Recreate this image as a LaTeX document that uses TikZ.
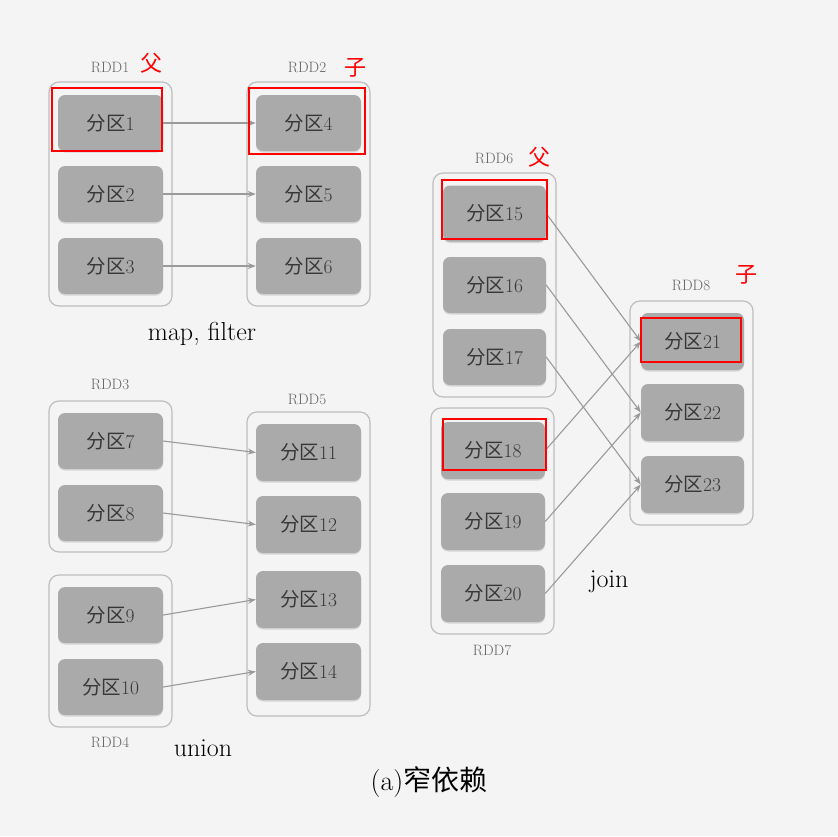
\documentclass[tikz,border=0pt]{standalone}
\usepackage{fontspec}
\newfontfamily\cjk{Noto Sans CJK SC}
\usetikzlibrary{arrows.meta,shadows}
\definecolor{bgc}{HTML}{F4F4F4}
\definecolor{partc}{HTML}{AAAAAA}
\definecolor{boxc}{HTML}{BEBEBE}
\definecolor{linec}{HTML}{9A9A9A}
\definecolor{txtc}{HTML}{383838}
\definecolor{lblc}{HTML}{626262}
\tikzset{
  part/.style={rectangle, rounded corners=7pt, fill=partc, minimum width=105pt, minimum height=56pt, inner sep=0pt, text=txtc, font=\fontsize{19.5}{19.5}\selectfont,
    drop shadow={shadow xshift=0pt, shadow yshift=-1.5pt, fill=black, opacity=0.12}},
  rddbox/.style={rectangle, rounded corners=10pt, draw=boxc, line width=1.2pt, fill=bgc, minimum width=123pt, inner sep=0pt},
  rddlbl/.style={text=lblc, font=\fontsize{15}{15}\selectfont, inner sep=0pt},
  redmark/.style={text=red, font=\cjk\fontsize{22}{22}\selectfont, inner sep=0pt},
  redbox/.style={draw=red, line width=2.6pt},
  arr/.style={draw=linec, line width=1.1pt, -{Stealth[length=8pt,width=6pt]}},
  op/.style={text=black, font=\fontsize{26}{26}\selectfont, inner sep=0pt}
}
\newcommand{\fq}[1]{{\cjk 分区}#1}
\begin{document}
\begin{tikzpicture}[x=1pt,y=-1pt]
\fill[bgc] (0,0) rectangle (838,836);
\useasboundingbox (0,0) rectangle (838,836);
% containers
\node[rddbox, minimum height=224pt] (r1) at (110.5,194) {};
\node[rddbox, minimum height=224pt] (r2) at (308.5,194) {};
\node[rddbox, minimum height=151pt] (r3) at (110.5,476.5) {};
\node[rddbox, minimum height=152pt] (r4) at (110.5,651) {};
\node[rddbox, minimum height=304pt] (r5) at (308.5,564) {};
\node[rddbox, minimum height=224pt] (r6) at (494.5,285) {};
\node[rddbox, minimum height=226pt] (r7) at (492.5,521) {};
\node[rddbox, minimum height=224pt] (r8) at (691.5,413) {};
% labels
\node[rddlbl] (l1) at (110,67) {RDD1};
\node[rddlbl] (l2) at (307,67) {RDD2};
\node[rddlbl] (l3) at (110,384) {RDD3};
\node[rddlbl] (l4) at (110,742) {RDD4};
\node[rddlbl] (l5) at (307,399) {RDD5};
\node[rddlbl] (l6) at (494,158) {RDD6};
\node[rddlbl] (l7) at (492,650) {RDD7};
\node[rddlbl] (l8) at (691,285) {RDD8};
\node[redmark] (f1) at (151,63) {父};
\node[redmark] (z1) at (355,68) {子};
\node[redmark] (f2) at (539,157) {父};
\node[redmark] (z2) at (746,275) {子};
% partitions
\node[part] (p1) at (110.5,123) {\fq{1}};
\node[part] (p2) at (110.5,194) {\fq{2}};
\node[part] (p3) at (110.5,266) {\fq{3}};
\node[part] (p4) at (308.5,123) {\fq{4}};
\node[part] (p5) at (308.5,194) {\fq{5}};
\node[part] (p6) at (308.5,266) {\fq{6}};
\node[part] (p7) at (110.5,441) {\fq{7}};
\node[part] (p8) at (110.5,513) {\fq{8}};
\node[part] (p9) at (110.5,615) {\fq{9}};
\node[part] (p10) at (110.5,687) {\fq{10}};
\node[part, minimum height=57pt] (p11) at (308.5,452.5) {\fq{11}};
\node[part, minimum height=57pt] (p12) at (308.5,524.5) {\fq{12}};
\node[part, minimum height=57pt] (p13) at (308.5,599.5) {\fq{13}};
\node[part, minimum height=57pt] (p14) at (308.5,671.5) {\fq{14}};
\node[part, minimum width=103pt] (p15) at (494.5,213.5) {\fq{15}};
\node[part, minimum width=103pt] (p16) at (494.5,285) {\fq{16}};
\node[part, minimum width=103pt] (p17) at (494.5,357) {\fq{17}};
\node[part, minimum width=104pt, minimum height=57pt] (p18) at (493,450.5) {\fq{18}};
\node[part, minimum width=104pt, minimum height=57pt] (p19) at (493,521.5) {\fq{19}};
\node[part, minimum width=104pt, minimum height=57pt] (p20) at (493,593.5) {\fq{20}};
\node[part, minimum width=103pt, minimum height=57pt] (p21) at (692.5,341.5) {\fq{21}};
\node[part, minimum width=103pt, minimum height=57pt] (p22) at (692.5,412.5) {\fq{22}};
\node[part, minimum width=103pt, minimum height=57pt] (p23) at (692.5,484.5) {\fq{23}};
% arrows
\draw[arr] (p1.east) -- (p4.west);
\draw[arr] (p2.east) -- (p5.west);
\draw[arr] (p3.east) -- (p6.west);
\draw[arr] (p7.east) -- (p11.west);
\draw[arr] (p8.east) -- (p12.west);
\draw[arr] (p9.east) -- (p13.west);
\draw[arr] (p10.east) -- (p14.west);
\draw[arr] (p15.east) -- (p21.west);
\draw[arr] (p16.east) -- (p22.west);
\draw[arr] (p17.east) -- (p23.west);
\draw[arr] (p18.east) -- (p21.west);
\draw[arr] (p19.east) -- (p22.west);
\draw[arr] (p20.east) -- (p23.west);
% red boxes
\draw[redbox] (52,88) rectangle (162,151);
\draw[redbox] (249,88) rectangle (365,154);
\draw[redbox] (442,180) rectangle (547,239);
\draw[redbox] (443,419) rectangle (546,470);
\draw[redbox] (641,318) rectangle (741,362);
% operation labels
\node[op] (o1) at (202,334) {map, filter};
\node[op] (o2) at (203,748) {union};
\node[op] (o3) at (609,582) {join};
\node[op, font=\fontsize{28}{28}\selectfont] (cap) at (429,782) {(a){\cjk 窄依赖}};
\end{tikzpicture}
\end{document}
